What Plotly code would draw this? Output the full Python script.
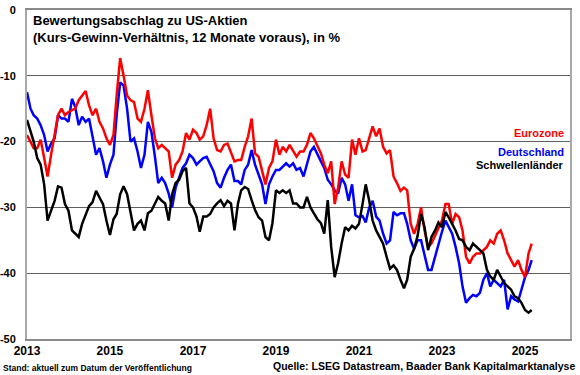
import pandas as pd
import plotly.graph_objects as go

# Monthly observations, Jan 2013 .. Mar 2025 (values in %)
start_month = "2013-01-01"
n_months = 147

eurozone = [
    -19, -20, -21, -21, -19.7, -22.5, -25.3, -22, -19, -16, -15, -16,
    -15.5, -15.2, -15, -13.7, -13, -12.3, -14.5, -16, -15, -17, -18, -19.5,
    -20.5, -19, -13, -7.3, -10, -13, -13.7, -14, -16.5, -17, -15, -12.2,
    -16, -19.5, -21, -20.5, -21, -21.5, -25.5, -23.5, -22.8, -21.5, -18.7, -19.7,
    -18.2, -18.7, -19.7, -19.2, -17.5, -15, -19.5, -21.3, -21.5, -20.5, -20.3, -21.5,
    -23, -22.8, -22.8, -20.8, -19.2, -16.5, -21.8, -22.3, -24.3, -26.5, -24, -23,
    -19.7, -22, -20.8, -21.5, -20.5, -21.5, -22.3, -21.5, -21.5, -20.5, -18.7, -19.5,
    -20.8, -21.8, -23.5, -24.8, -23, -29.5, -27, -23, -25, -25.5, -19.7, -22,
    -19.5, -21.5, -21.3, -19.5, -17.7, -19.2, -18, -20.8, -21.8, -21.3, -25.3, -26.3,
    -27.5, -27, -27.4, -32.5, -34, -32.5, -30, -33.5, -36, -35.5, -34.3, -33,
    -32, -29.5, -29.5, -32.5, -31, -31.5, -33.5, -37.5, -38.5, -37.5, -37, -37,
    -36.5, -36, -35, -35.5, -34, -33.5, -35, -37, -38, -39, -38, -39.5,
    -40.6, -37, -35.5,
]

deutschland = [
    -12.5, -15, -16, -16.5, -17.5, -19, -21.5, -20.3, -19.5, -16, -16.5, -16.5,
    -17, -13.5, -14.7, -17.5, -16.2, -17, -16.5, -19.5, -22, -21, -23, -25.5,
    -23.5, -22, -16, -11, -11.5, -15, -20, -19.5, -21.5, -24, -22, -17,
    -18.5, -22.3, -26.3, -25.5, -26.3, -27.9, -30, -27, -25.5, -24, -23.3, -22,
    -22.5, -23.5, -23, -22.5, -22.3, -23.5, -24.5, -26.3, -27, -25.5, -24.3, -23.5,
    -26, -26, -26.5, -24.3, -23.5, -21.3, -23.5, -25, -26.5, -29.5, -26.5, -25.3,
    -24.3, -24.3, -23.8, -23.3, -23.8, -23.3, -24.3, -24, -25.3, -23.5, -21.5, -20.8,
    -21.8, -23, -24, -25.8, -26.5, -27.4, -27.9, -25.5, -26.5, -29, -26.5, -31.2,
    -31.5, -31.3, -32.3, -30, -29, -31.4, -32, -34, -35.5, -35, -30.7, -31.2,
    -30.9, -30.9, -32.5, -35, -36.3, -35, -35, -37.5, -39.5, -39.5, -37.5, -35.5,
    -33.7, -32, -33, -34, -36, -38.5, -42, -44.5, -43.8, -43.3, -43.5, -43,
    -41, -40, -42, -41, -41.5, -42, -41, -45.5, -43.5, -44, -44.3, -42.5,
    -40.6, -39.5, -38,
]

schwellenlaender = [
    -16.7, -18.5, -20, -22.5, -23.5, -26.5, -32, -30.5, -29, -26.8, -27, -29.5,
    -30.5, -33.5, -34, -34.5, -32.5, -31, -29.8, -29.2, -27.5, -28.5, -29.5, -32,
    -34.2, -31.8, -31, -28, -26.8, -28, -31, -33.5, -32.5, -32, -33.5, -30.9,
    -30.5, -29.4, -28.4, -29, -29.4, -32, -28, -26.3, -25.8, -24.5, -24, -29.4,
    -30, -31.4, -33.7, -31.4, -31.4, -31, -30, -29.4, -28.9, -29.8, -29, -29.4,
    -33.5, -29.4, -27.4, -26.9, -27.2, -28.9, -30.4, -31.5, -32, -34.5, -35, -32.4,
    -27.4, -27.8, -27.4, -27.8, -27.4, -29.4, -29.4, -30, -30, -28.4, -30, -30.9,
    -31.8, -32.4, -34, -28.9, -36, -40.6, -38.5, -35.5, -33, -33.5, -32.8, -33.2,
    -32.5, -29.5, -26.5, -29, -32, -33.5, -34.5, -35.5, -37.5, -39.3, -38.8, -39.5,
    -41, -42.3, -41, -37.5, -36.3, -34.3, -31, -33, -36.5, -34.5, -33.5, -32.3,
    -33, -30.7, -31.5, -32.5, -33.5, -34.8, -35, -36, -36.5, -35.5, -36, -36.5,
    -37, -39.5, -40.5, -41, -39.5, -40.5, -41.5, -42, -42.5, -43.5, -43.8, -44.5,
    -45.6, -46, -45.6,
]

year_ticks = ["2013", "2015", "2017", "2019", "2021", "2023", "2025"]
y_ticks = [0, -10, -20, -30, -40, -50]

dates = pd.date_range(start_month, periods=n_months, freq="MS")

FONT = "Liberation Sans, Arial, sans-serif"
L, R, T, B = 27, 10, 10, 36
PW, PH = 580 - L - R, 375 - T - B

def px_x(x):
    return (x - L) / PW

def px_y(y):
    return 1 - (y - T) / PH

fig = go.Figure()
fig.add_trace(go.Scatter(x=dates, y=deutschland, mode="lines", name="Deutschland",
                         line=dict(color="#0000ff", width=2.5)))
fig.add_trace(go.Scatter(x=dates, y=eurozone, mode="lines", name="Eurozone",
                         line=dict(color="#ff0000", width=2.5)))
fig.add_trace(go.Scatter(x=dates, y=schwellenlaender, mode="lines", name="Schwellenländer",
                         line=dict(color="#000000", width=2.5)))

fig.update_layout(
    width=580, height=375,
    margin=dict(l=L, r=R, t=T, b=B, autoexpand=False),
    paper_bgcolor="white", plot_bgcolor="white",
    showlegend=False,
    font=dict(family=FONT, color="black"),
)
fig.update_xaxes(
    type="date", automargin=False,
    range=["2013-01-01", "2026-02-01"],
    tickvals=[f"{y}-01-01" for y in year_ticks],
    ticktext=year_ticks,
    tickfont=dict(size=12, weight="bold", color="black"),
    showgrid=False, zeroline=False,
    showline=True, linecolor="#8a8a8a", linewidth=1.5, mirror=True,
    ticks="",
)
fig.update_yaxes(
    range=[-50, 0], automargin=False,
    tickvals=y_ticks,
    ticktext=[str(v) for v in y_ticks],
    tickfont=dict(size=11, weight="bold", color="black"),
    showgrid=True, gridcolor="#606060", gridwidth=1,
    zeroline=False,
    showline=True, linecolor="#a8a8a8", linewidth=2, mirror=True,
    ticks="", ticklabelstandoff=7,
)

fig.add_annotation(
    xref="paper", yref="paper", x=px_x(31), y=px_y(11), xanchor="left", yanchor="top",
    align="left", showarrow=False,
    text="<b>Bewertungsabschlag zu US-Aktien<br>(Kurs-Gewinn-Verhältnis, 12 Monate voraus), in %</b>",
    font=dict(size=13, color="black", family=FONT),
)

labels = [("Eurozone", "#ff0000", 133), ("Deutschland", "#0000ff", 152), ("Schwellenländer", "#000000", 164.5)]
for txt, col, ypx in labels:
    fig.add_annotation(
        xref="paper", yref="paper", x=px_x(566), y=px_y(ypx),
        xanchor="right", yanchor="middle", showarrow=False,
        text=f"<b>{txt}</b>", font=dict(size=11, color=col, family=FONT),
    )

fig.add_annotation(
    xref="paper", yref="paper", x=px_x(1), y=px_y(368),
    xanchor="left", yanchor="middle", showarrow=False,
    text="<b>Stand: aktuell zum Datum der Veröffentlichung</b>",
    font=dict(size=8.5, color="black", family=FONT),
)
fig.add_annotation(
    xref="paper", yref="paper", x=px_x(577), y=px_y(366),
    xanchor="right", yanchor="middle", showarrow=False,
    text="<b>Quelle: LSEG Datastream, Baader Bank Kapitalmarktanalyse</b>",
    font=dict(size=10.5, color="black", family=FONT),
)

fig.write_html("out.html", config={"displayModeBar": False},
               post_script="document.body.style.margin='0';")
